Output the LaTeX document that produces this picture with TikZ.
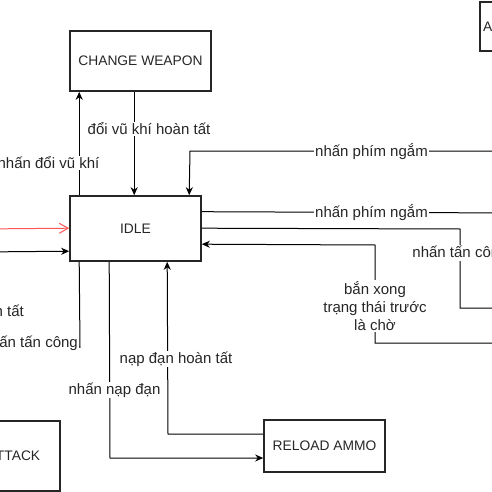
\documentclass[tikz,border=0pt]{standalone}
\usepackage{fontspec}
\setmainfont{Liberation Sans}
\usetikzlibrary{arrows.meta,calc}
\begin{document}
\begin{tikzpicture}[x=1pt,y=-1pt,
  box/.style={draw=black!85,line width=1.6pt,rectangle,inner sep=0pt,
    font=\fontsize{13.8}{16}\selectfont,text=black!85},
  edge/.style={draw=black,line width=1pt},
  arr/.style={edge,-{Stealth[length=8pt,width=7pt,inset=2.5pt]}},
  lbl/.style={fill=white,inner sep=1pt,font=\fontsize{15}{18}\selectfont,text=black!85,align=center}]
\useasboundingbox (0,0) rectangle (492,492);
\clip (0,0) rectangle (492,492);

% boxes
\node[box,minimum width=141pt,minimum height=60pt] (cw) at (140.5,61) {CHANGE WEAPON};
\node[box,minimum width=131pt,minimum height=65pt] (idle) at (135.5,228.5) {IDLE};
\node[box,minimum width=121pt,minimum height=52pt] (reload) at (324.5,446) {RELOAD AMMO};
\node[box,minimum width=92pt,minimum height=70pt] (attack) at (14,456) {ATTACK};
\node[box,minimum width=80pt,minimum height=49pt] (aim) at (520,26.5) {};
\node[anchor=west,inner sep=0pt,font=\fontsize{13.8}{16}\selectfont,text=black!85] (aimtxt) at (483,27) {A};

% off-picture ends
\coordinate (r1) at (520,151);
\coordinate (r2) at (520,213);
\coordinate (r3) at (520,308);
\coordinate (r4) at (520,343);
\coordinate (l1) at (-20,229);
\coordinate (l2) at (-20,252);
\coordinate (l3) at (-40,347);

% connectors
\draw[arr] ($(idle.north west)+(10,0)$) -- ($(cw.south west)+(10,0)$);
\draw[arr] ($(cw.south west)+(65,0)$) -- ($(idle.north west)+(65,0)$);
\draw[arr] (r1) -- (190,151) -- ($(idle.north west)+(120,0)$);
\draw[edge] ($(idle.north east)+(0,16.5)$) -- (r2);
\draw[edge] ($(idle.north east)+(0,33)$) -- (460,229) -- (460,308) -- (r3);
\draw[arr] (r4) -- (375,343) -- (375,245) -- ($(idle.north east)+(0,49)$);
\draw[draw={rgb,255:red,255;green,85;blue,85},line width=1pt,
  -{Straight Barb[length=9pt,width=10pt]}] (l1) -- ($(idle.north west)+(0,33)$);
\draw[arr] (l2) -- ($(idle.north west)+(0,56)$);
\draw[edge] ($(idle.south west)+(10,0)$) -- (80,347) -- (l3);
\draw[arr] ($(idle.south west)+(40,0)$) -- (110,458) -- ($(reload.west)+(0,12)$);
\draw[arr] ($(reload.west)+(0,-12)$) -- (168,434) -- ($(idle.south west)+(98,0)$);

% labels
\node[lbl] (t1) at (48.5,163) {nhấn đổi vũ khí};
\node[lbl] (t2) at (149,129) {đổi vũ khí hoàn tất};
\node[lbl] (t3) at (371.5,152) {nhấn phím ngắm};
\node[lbl] (t4) at (371.5,213) {nhấn phím ngắm};
\node[lbl] (t5) at (460,253) {nhấn tấn công};
\node[lbl] (t6) at (375,306) {bắn xong\\trạng thái trước\\là chờ};
\node[lbl,anchor=east] (t7) at (79,343) {nhấn tấn công};
\node[lbl,anchor=east] (t8) at (25,312) {tấn công hoàn tất};
\node[lbl] (t9) at (114.5,390) {nhấn nạp đạn};
\node[lbl] (t10) at (176,359) {nạp đạn hoàn tất};
\end{tikzpicture}
\end{document}
